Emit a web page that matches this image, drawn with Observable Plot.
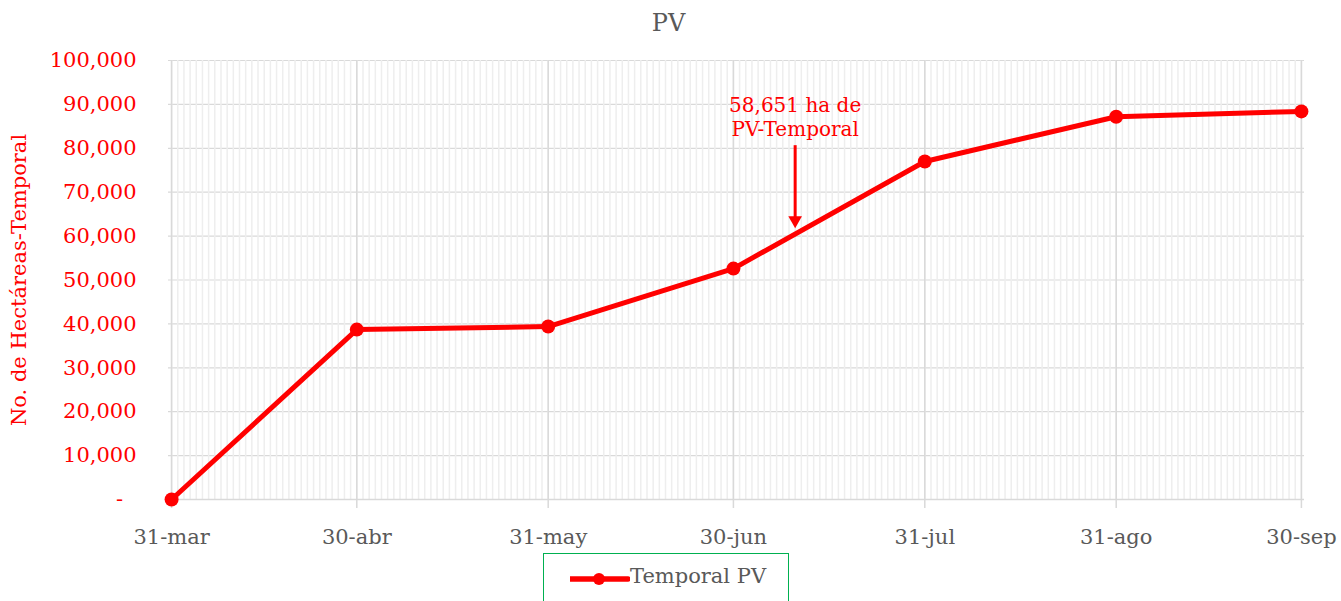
<!DOCTYPE html>
<html>
<head>
<meta charset="utf-8">
<script src="https://cdn.jsdelivr.net/npm/d3@7"></script>
<script src="https://cdn.jsdelivr.net/npm/@observablehq/plot@0.6"></script>
<style>
  html, body { margin: 0; padding: 0; background: #fff; }
  #wrap { position: relative; width: 1341px; height: 601px; overflow: hidden; font-family: "DejaVu Serif", serif; }
  #title { height: 45px; line-height: 46px; text-align: center; font-size: 24px; color: #595959; padding-right: 4px; }
  #legend { position: absolute; left: 543px; top: 553px; width: 246px; height: 60px; border: 1.5px solid #00b050; box-sizing: border-box; }
  #legend svg { position: absolute; left: 26px; top: 16px; }
  #legend span { position: absolute; left: 86px; top: 10px; font-size: 21px; color: #595959; white-space: nowrap; }
</style>
</head>
<body>
<div id="wrap">
  <div id="title">PV</div>
  <div id="chart"></div>
  <div id="legend">
    <svg width="60" height="18"><line x1="1" y1="9" x2="58" y2="9" stroke="red" stroke-width="5.5" stroke-linecap="round"/><circle cx="29" cy="9" r="6" fill="red"/></svg>
    <span>Temporal PV</span>
  </div>
</div>
<script>
// ---- data ----
const dates = ["2023-03-31","2023-04-30","2023-05-31","2023-06-30","2023-07-31","2023-08-31","2023-09-30"];
const tickLabels = ["31-mar","30-abr","31-may","30-jun","31-jul","31-ago","30-sep"];
const values = [0, 38700, 39400, 52600, 77000, 87200, 88400];
const yTicks = [0,10000,20000,30000,40000,50000,60000,70000,80000,90000,100000];
const annotDate = "2023-07-10";
const annotText = "58,651 ha de\nPV-Temporal";
const annotTextValue = 82700;
const annotArrowFrom = 80600;
const annotArrowTo = 64200;
const annotHeadValue = 63600;

// ---- build ----
const parse = s => new Date(s + "T00:00:00Z");
const data = dates.map((d, i) => ({date: parse(d), value: values[i]}));
const tickDates = dates.map(parse);
const labelMap = new Map(tickDates.map((d, i) => [+d, tickLabels[i]]));
const x0 = new Date(Date.UTC(2023, 2, 30, 12));
const x1 = new Date(Date.UTC(2023, 8, 30, 12));
const days = d3.utcDay.range(new Date(Date.UTC(2023, 2, 31)), new Date(Date.UTC(2023, 9, 1)));
const annot = [{date: parse(annotDate), text: annotText, ty: annotTextValue, a1: annotArrowFrom, a2: annotArrowTo, h: annotHeadValue}];

const chart = Plot.plot({
  width: 1341,
  height: 508,
  marginLeft: 168,
  marginRight: 37,
  marginTop: 15,
  marginBottom: 54,
  style: {fontFamily: "DejaVu Serif", fontSize: "21px", background: "white", overflow: "visible"},
  x: {type: "utc", domain: [x0, x1]},
  y: {domain: [0, 100000]},
  marks: [
    Plot.ruleY(yTicks, {stroke: "#d9d9d9", strokeWidth: 1.2}),
    Plot.ruleX(days, {stroke: "#eeeeee", strokeWidth: 1.5, y1: 0, y2: 100000}),
    Plot.ruleX(tickDates, {stroke: "#d9d9d9", strokeWidth: 1.5, y1: 0, y2: 100000}),
    Plot.ruleY([0], {stroke: "#d9d9d9", strokeWidth: 1.5}),
    Plot.axisY({
      ticks: yTicks, tickSize: 0, tickPadding: 32, fontSize: 21,
      tickFormat: d => d === 0 ? "-\u2007" : d3.format(",")(d),
      fill: "red",
      label: "No. de Hectáreas-Temporal", labelAnchor: "center", labelArrow: "none", labelOffset: 157
    }),
    Plot.axisX({
      ticks: tickDates, tickSize: 9, tickPadding: 21, fontSize: 21,
      tickFormat: d => labelMap.get(+d),
      stroke: "#d9d9d9", strokeWidth: 1.5, fill: "#595959",
      label: null
    }),
    Plot.line(data, {x: "date", y: "value", stroke: "red", strokeWidth: 5}),
    Plot.dot(data, {x: "date", y: "value", fill: "red", r: 7}),
    Plot.ruleX(annot, {x: "date", y1: "a1", y2: "a2", stroke: "red", strokeWidth: 3}),
    Plot.dot(annot, {x: "date", y: "h", symbol: "triangle2", fill: "red", r: 6.5, rotate: 180}),
    Plot.text(annot, {x: "date", y: "ty", text: "text", fill: "red", lineAnchor: "bottom", lineHeight: 1.2, fontSize: 20})
  ]
});
document.getElementById("chart").appendChild(chart);
</script>
</body>
</html>
